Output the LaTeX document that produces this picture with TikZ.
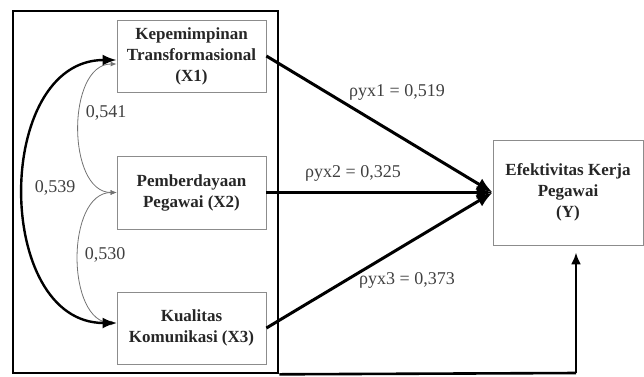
\documentclass[tikz,border=0pt]{standalone}
\usepackage{fontspec}
\setmainfont{Liberation Serif}
\usetikzlibrary{arrows.meta}
\tikzset{
  varbox/.style={draw=black!45, line width=0.8pt, minimum width=149pt,
    minimum height=72pt, align=center, inner sep=0pt, text=black!85,
    font=\bfseries\fontsize{17}{21}\selectfont},
  koef/.style={inner sep=0pt, text=black!75, font=\fontsize{18}{20}\selectfont},
  jalur/.style={line width=3pt, -{Latex[length=16pt,width=13pt]}},
  korel/.style={draw=black!55, line width=0.8pt,
    {Latex[length=6pt,width=5pt]}-{Latex[length=6pt,width=5pt]}},
}
\begin{document}
\begin{tikzpicture}[x=1pt,y=-1pt]
  \useasboundingbox (0,0) rectangle (644,376);
  \node[draw, line width=2.6pt, minimum width=265pt, minimum height=362pt,
    inner sep=0pt] (blok) at (145.5,192) {};
  \node[varbox] (x1) at (191.5,56) {Kepemimpinan\\Transformasional\\(X1)};
  \node[varbox, minimum height=73pt] (x2) at (191.5,192.5) {Pemberdayaan\\Pegawai (X2)};
  \node[varbox] (x3) at (191.5,328) {Kualitas\\Komunikasi (X3)};
  \node[varbox, minimum width=150pt, minimum height=105pt] (yv) at (568,192.5)
    {Efektivitas Kerja\\Pegawai\\(Y)};
  % korelasi antar variabel bebas
  \draw[korel] ([yshift=-8pt]x1.west) to[out=180,in=180,looseness=1] (x2.west);
  \draw[korel] (x2.west) to[out=180,in=180,looseness=1] ([yshift=5pt]x3.west);
  \draw[line width=2.4pt, {Latex[length=14pt,width=11pt]}-{Latex[length=14pt,width=11pt]}]
    ([yshift=-4pt]x1.west) to[out=180,in=180,looseness=1.2] ([yshift=5pt]x3.west);
  % jalur ke Y
  \foreach \v in {x1,x2,x3}
    \draw[jalur] (\v.east) -- (yv.west);
  \coordinate (tekuk) at (576,373);
  \draw[line width=2.6pt] (blok.south east) -- (tekuk);
  \draw[line width=2.6pt, -{Latex[length=12pt,width=10pt]}, shorten >=7pt]
    (tekuk) -- (tekuk |- yv.south);
  \node[koef] (r541) at (106,113) {0,541};
  \node[koef] (r539) at (55,188) {0,539};
  \node[koef] (r530) at (105,255) {0,530};
  \node[koef] (p1) at (397,92) {ρyx1 = 0,519};
  \node[koef] (p2) at (353,173) {ρyx2 = 0,325};
  \node[koef] (p3) at (407,280) {ρyx3 = 0,373};
\end{tikzpicture}
\end{document}
